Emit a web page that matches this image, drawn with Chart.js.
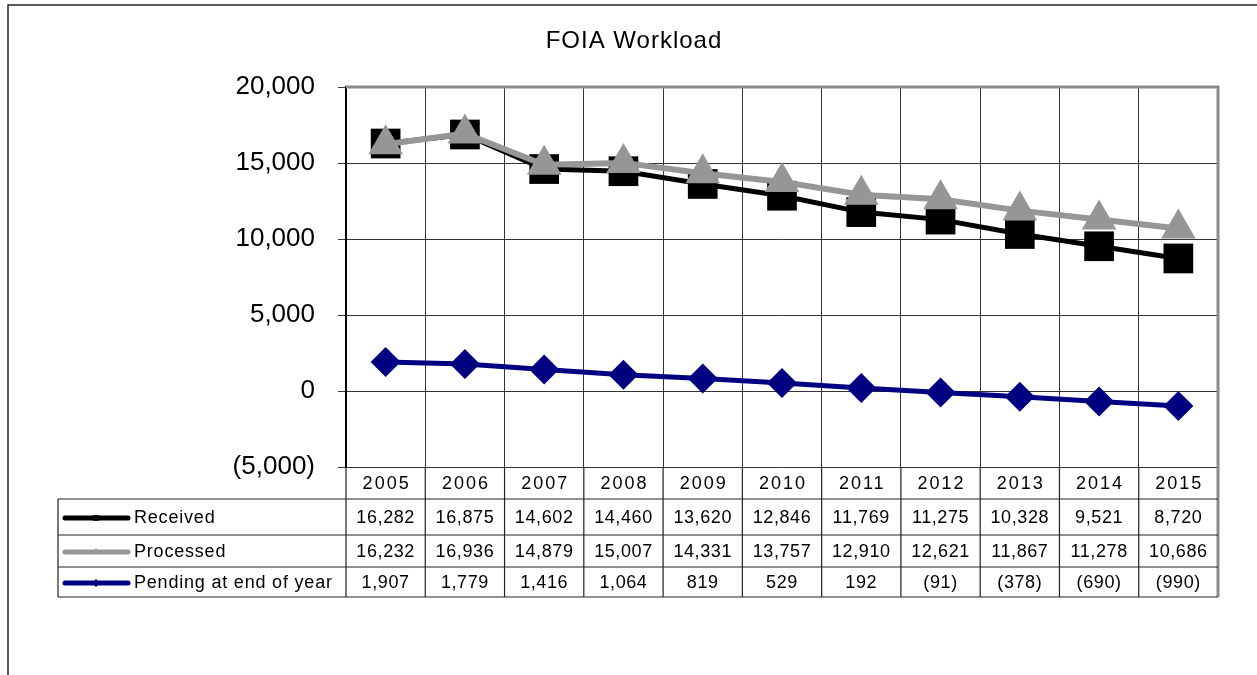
<!DOCTYPE html>
<html>
<head>
<meta charset="utf-8">
<script src="https://cdn.jsdelivr.net/npm/chart.js@4"></script>
<style>
  body { margin: 0; background: #fff; }
  canvas { display: block; }
</style>
</head>
<body>
<canvas id="foiaChart" width="1257" height="675"></canvas>
<script>
const years = ['2005', '2006', '2007', '2008', '2009', '2010', '2011', '2012', '2013', '2014', '2015'];
const received = [16282, 16875, 14602, 14460, 13620, 12846, 11769, 11275, 10328, 9521, 8720];
const processed = [16232, 16936, 14879, 15007, 14331, 13757, 12910, 12621, 11867, 11278, 10686];
const pending = [1907, 1779, 1416, 1064, 819, 529, 192, -91, -378, -690, -990];
const seriesNames = ['Received', 'Processed', 'Pending at end of year'];
const yTicks = [-5000, 0, 5000, 10000, 15000, 20000];

const colours = ['#000000', '#969696', '#000080'];

// number format with parentheses for negatives
function fmt(v) {
    const s = Math.abs(v).toLocaleString('en-US');
    return v < 0 ? '(' + s + ')' : s;
}

// table row boundaries under the plot (years row is the x axis)
const rowLines = [499, 535, 567, 597];
const tableLeft = 58;

const frameAndTable = {
    id: 'frameAndTable',
    beforeDraw: (chart) => {
        const ctx = chart.ctx;
        ctx.save();
        ctx.fillStyle = '#fff';
        ctx.fillRect(0, 0, chart.width, chart.height);
        // outer frame
        ctx.strokeStyle = '#222';
        ctx.lineWidth = 1.5;
        ctx.beginPath();
        ctx.moveTo(8, 675);
        ctx.lineTo(8, 5);
        ctx.lineTo(1257, 5);
        ctx.stroke();
        ctx.restore();
    },
    afterDraw: (chart) => {
        const ctx = chart.ctx;
        const area = chart.chartArea;
        const xAxis = chart.scales.x;
        const colW = xAxis.getPixelForValue(1) - xAxis.getPixelForValue(0);
        ctx.save();

        // title
        ctx.fillStyle = '#000';
        ctx.font = '24px Arial';
        ctx.letterSpacing = '1px';
        ctx.textAlign = 'center';
        ctx.textBaseline = 'middle';
        ctx.fillText('FOIA Workload', 634, 41);

        // plot area border (top/right grey)
        ctx.strokeStyle = '#8c8c8c';
        ctx.lineWidth = 3;
        ctx.beginPath();
        ctx.moveTo(area.left, area.top);
        ctx.lineTo(area.right, area.top);
        ctx.lineTo(area.right, rowLines[3]);
        ctx.stroke();

        // table horizontal lines
        ctx.strokeStyle = '#222';
        ctx.lineWidth = 1.2;
        ctx.beginPath();
        for (let i = 0; i < rowLines.length; i++) {
            ctx.moveTo(tableLeft, rowLines[i]);
            ctx.lineTo(area.right, rowLines[i]);
        }
        // table vertical lines
        ctx.moveTo(tableLeft, rowLines[0]);
        ctx.lineTo(tableLeft, rowLines[3]);
        for (let i = 0; i < years.length; i++) {
            const xb = xAxis.getPixelForValue(i) - colW / 2;
            ctx.moveTo(xb, area.bottom);
            ctx.lineTo(xb, rowLines[3]);
        }
        ctx.stroke();

        // years row
        ctx.fillStyle = '#000';
        ctx.font = '18px Arial';
        ctx.letterSpacing = '2px';
        ctx.textAlign = 'center';
        ctx.textBaseline = 'middle';
        years.forEach((y, i) => {
            ctx.fillText(y, xAxis.getPixelForValue(i) + 1, (area.bottom + rowLines[0]) / 2 + 1);
        });

        // table rows
        const rows = [received, processed, pending];
        const markers = ['rect', 'triangle', 'rectRot'];
        for (let r = 0; r < rows.length; r++) {
            const yc = (rowLines[r] + rowLines[r + 1]) / 2 + 1;

            // legend key
            ctx.strokeStyle = colours[r];
            ctx.lineWidth = 5;
            ctx.lineCap = 'round';
            ctx.beginPath();
            ctx.moveTo(65, yc);
            ctx.lineTo(128, yc);
            ctx.stroke();
            ctx.fillStyle = colours[r];
            Chart.helpers.drawPoint(ctx, { pointStyle: markers[r], radius: 4, borderWidth: 0 }, 96, yc);

            ctx.fillStyle = '#000';
            ctx.font = '18px Arial';
            ctx.letterSpacing = '0.8px';
            ctx.textAlign = 'left';
            ctx.fillText(seriesNames[r], 134, yc);

            ctx.letterSpacing = '0.6px';
            ctx.textAlign = 'center';
            rows[r].forEach((v, i) => {
                ctx.fillText(fmt(v), xAxis.getPixelForValue(i), yc);
            });
        }
        ctx.restore();
    }
};

const ctx = document.getElementById('foiaChart').getContext('2d');
const chart = new Chart(ctx, {
    type: 'line',
    data: {
        labels: years,
        datasets: [
            {
                label: seriesNames[0],
                data: received,
                borderColor: colours[0],
                backgroundColor: colours[0],
                borderWidth: 5,
                pointStyle: 'rect',
                pointRadius: 21,
                pointBorderWidth: 0,
                order: 3
            },
            {
                label: seriesNames[1],
                data: processed,
                borderColor: colours[1],
                backgroundColor: colours[1],
                borderWidth: 6,
                pointStyle: 'triangle',
                pointRadius: 20,
                pointBorderWidth: 0,
                order: 2
            },
            {
                label: seriesNames[2],
                data: pending,
                borderColor: colours[2],
                backgroundColor: colours[2],
                borderWidth: 5,
                pointStyle: 'rectRot',
                pointRadius: 15,
                pointBorderWidth: 0,
                order: 1
            }
        ]
    },
    options: {
        responsive: false,
        animation: false,
        layout: {
            padding: { left: 8, top: 87, right: 39, bottom: 675 - rowLines[0] }
        },
        scales: {
            x: {
                offset: true,
                grid: {
                    offset: true,
                    color: '#333',
                    lineWidth: 1,
                    drawTicks: false
                },
                border: { display: false },
                ticks: { display: false },
                afterFit: (scale) => { scale.height = rowLines[0] - 467; }
            },
            y: {
                min: -5000,
                max: 20000,
                afterBuildTicks: (scale) => { scale.ticks = yTicks.map(v => ({ value: v })); },
                grid: {
                    color: '#333',
                    lineWidth: 1,
                    tickLength: 8
                },
                border: { color: '#000', width: 2 },
                ticks: {
                    color: '#000',
                    font: { family: 'Arial', size: 26 },
                    padding: 23,
                    callback: (value) => fmt(value)
                },
                afterFit: (scale) => { scale.width = 346 - 8; }
            }
        },
        elements: {
            line: { tension: 0 }
        },
        plugins: {
            legend: { display: false },
            tooltip: { enabled: false },
            title: { display: false }
        }
    },
    plugins: [frameAndTable]
});
</script>
</body>
</html>
